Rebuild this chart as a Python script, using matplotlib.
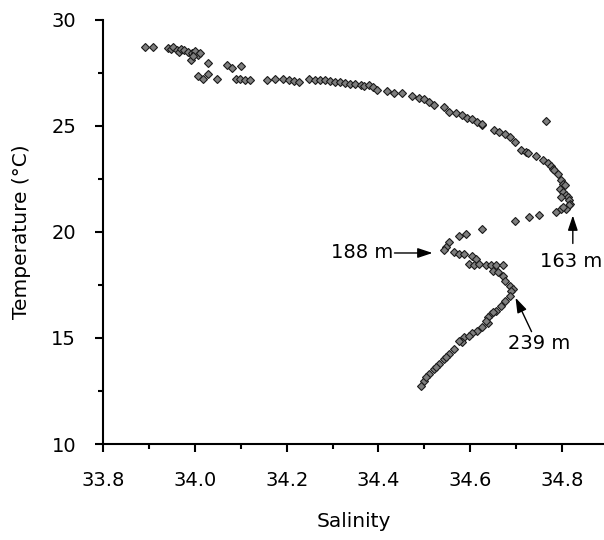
import matplotlib
matplotlib.use("Agg")
import matplotlib.pyplot as plt
from matplotlib.ticker import MultipleLocator

# ---- data ----
salinity_upper = [33.892, 33.909, 33.942, 33.948, 33.953, 33.960, 33.966, 33.970,
                  33.977, 33.985, 33.993, 33.999, 34.000, 34.007, 34.010, 33.991,
                  33.995, 34.028, 34.069, 34.080, 34.100, 34.006, 34.018, 34.028,
                  34.047, 34.089, 34.098, 34.109, 34.120, 34.157, 34.175]
temp_upper = [28.74, 28.74, 28.66, 28.62, 28.74, 28.58, 28.50, 28.62,
              28.58, 28.50, 28.43, 28.43, 28.52, 28.35, 28.45, 28.11,
              28.30, 27.95, 27.87, 27.72, 27.83, 27.35, 27.24, 27.45,
              27.24, 27.24, 27.20, 27.16, 27.16, 27.16, 27.24]

salinity_main = [34.193, 34.204, 34.215, 34.226, 34.248, 34.262, 34.273, 34.284,
                 34.295, 34.306, 34.317, 34.328, 34.339, 34.350, 34.361, 34.368,
                 34.379, 34.388, 34.397, 34.419, 34.434, 34.452, 34.474, 34.489,
                 34.500, 34.511, 34.521, 34.543, 34.554, 34.569, 34.583, 34.594,
                 34.605, 34.616, 34.626, 34.627, 34.653, 34.664, 34.675, 34.686,
                 34.697, 34.711, 34.722, 34.726, 34.744, 34.758, 34.769, 34.777,
                 34.780, 34.784, 34.791, 34.798, 34.802, 34.795, 34.802, 34.809,
                 34.813, 34.815, 34.817, 34.815, 34.809, 34.798, 34.788, 34.766,
                 34.806, 34.798, 34.802]
temp_main = [27.24, 27.16, 27.13, 27.08, 27.20, 27.16, 27.16, 27.16,
             27.13, 27.08, 27.08, 27.01, 26.97, 26.97, 26.93, 26.88,
             26.93, 26.85, 26.72, 26.66, 26.56, 26.56, 26.41, 26.30,
             26.25, 26.14, 25.98, 25.90, 25.66, 25.59, 25.51, 25.40,
             25.31, 25.19, 25.04, 25.10, 24.80, 24.72, 24.64, 24.48,
             24.25, 23.89, 23.77, 23.73, 23.57, 23.41, 23.25, 23.10,
             22.99, 22.91, 22.72, 22.47, 22.28, 22.04, 21.88, 21.73,
             21.65, 21.52, 21.33, 21.25, 21.10, 21.10, 20.94, 25.24,
             22.20, 21.65, 21.17]

salinity_mid = [34.751, 34.729, 34.697, 34.627, 34.591, 34.576, 34.554, 34.547,
                34.543, 34.565, 34.576, 34.587, 34.605, 34.612, 34.598, 34.609,
                34.620, 34.634, 34.645, 34.656, 34.671, 34.649, 34.660, 34.671,
                34.677, 34.686, 34.693]
temp_mid = [20.78, 20.70, 20.54, 20.15, 19.92, 19.83, 19.52, 19.28,
            19.13, 19.05, 18.97, 18.97, 18.89, 18.73, 18.50, 18.42,
            18.50, 18.46, 18.46, 18.46, 18.46, 18.18, 18.10, 17.94,
            17.71, 17.47, 17.31]

salinity_lower = [34.689, 34.686, 34.675, 34.667, 34.656, 34.645, 34.638, 34.638,
                  34.627, 34.616, 34.605, 34.587, 34.583, 34.565, 34.554, 34.543,
                  34.532, 34.521, 34.511, 34.500, 34.492, 34.649, 34.634, 34.598,
                  34.576, 34.547, 34.525, 34.503]
temp_lower = [17.23, 17.00, 16.76, 16.53, 16.29, 16.13, 15.97, 15.69,
              15.50, 15.34, 15.22, 15.03, 14.79, 14.48, 14.24, 14.01,
              13.77, 13.53, 13.30, 12.98, 12.74, 16.21, 15.82, 15.11,
              14.87, 14.11, 13.64, 13.14]

x_ticks = [33.8, 34.0, 34.2, 34.4, 34.6, 34.8]
x_tick_labels = ["33.8", "34.0", "34.2", "34.4", "34.6", "34.8"]
y_ticks = [10, 15, 20, 25, 30]
y_tick_labels = ["10", "15", "20", "25", "30"]

labels = ["163 m", "188 m", "239 m"]

# ---- figure ----
plt.rcParams['font.family'] = ['DejaVu Sans']
fig = plt.figure(figsize=(6.04, 5.40), dpi=100)
ax = fig.add_axes([103.3 / 604, 96 / 540, (604 - 103.3) / 604, 424 / 540])

S = salinity_upper + salinity_main + salinity_mid + salinity_lower
T = temp_upper + temp_main + temp_mid + temp_lower
ax.plot(S, T, linestyle='none', marker='D', markersize=4.5,
        markerfacecolor='#7e7e7e', markeredgecolor='#1a1a1a',
        markeredgewidth=0.8, clip_on=False)

ax.set_xlim(33.8, 34.892)
ax.set_ylim(10, 30)
ax.set_xticks(x_ticks)
ax.set_xticklabels(x_tick_labels)
ax.set_yticks(y_ticks)
ax.set_yticklabels(y_tick_labels)
ax.xaxis.set_minor_locator(MultipleLocator(0.1))
ax.yaxis.set_minor_locator(MultipleLocator(2.5))

for side in ['top', 'right']:
    ax.spines[side].set_visible(False)
for side in ['left', 'bottom']:
    ax.spines[side].set_linewidth(1.5)

ax.tick_params(which='major', direction='out', length=5.5, width=1.5,
               labelsize=14, pad=14, colors='black')
ax.tick_params(which='minor', direction='out', length=3.5, width=1.5)

ax.set_xlabel("Salinity", fontsize=14.5, labelpad=16)
ax.set_ylabel("Temperature (\u00b0C)", fontsize=14.5, labelpad=15)

arrow = dict(arrowstyle='-|>,head_length=0.9,head_width=0.3', color='black',
             lw=1.0, shrinkA=0, shrinkB=0)
# 163 m
ax.annotate('', xy=(34.824, 20.78), xytext=(34.824, 19.46), arrowprops=arrow)
ax.text(34.820, 18.61, labels[0], fontsize=14, ha='center', va='center')
# 188 m
ax.annotate('', xy=(34.518, 19.01), xytext=(34.435, 19.01), arrowprops=arrow)
ax.text(34.365, 19.03, labels[1], fontsize=14, ha='center', va='center')
# 239 m
ax.annotate('', xy=(34.699, 16.90), xytext=(34.734, 15.30), arrowprops=arrow)
ax.text(34.750, 14.73, labels[2], fontsize=14, ha='center', va='center')

fig.savefig("out.png", dpi=100)
